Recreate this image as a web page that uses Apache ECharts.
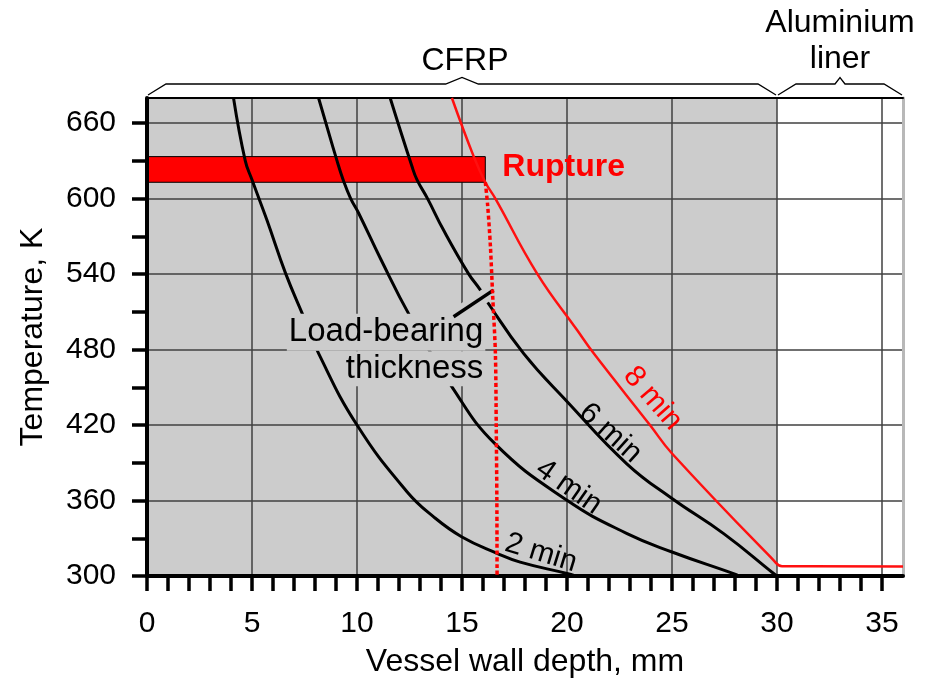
<!DOCTYPE html>
<html><head><meta charset="utf-8">
<script src="https://cdn.jsdelivr.net/npm/echarts@6/dist/echarts.min.js"></script>
<style>html,body{margin:0;padding:0;background:#fff}#c{width:933px;height:681px}</style>
</head><body><div id="c"></div>
<script>
// ---------------- data (depth mm, temperature K) ----------------
const xLabelTicks = [0, 5, 10, 15, 20, 25, 30, 35];
const xMinorTicks = [0,1,2,3,4,5,6,7,8,9,10,11,12,13,14,15,16,17,18,19,20,21,22,23,24,25,26,27,28,29,30,31,32,33,34,35];
const yLabelTicks = [300, 360, 420, 480, 540, 600, 660];
const yMinorTicks = [300, 330, 360, 390, 420, 450, 480, 510, 540, 570, 600, 630, 660];

const curve2min = [[4.12,680],[4.68,630],[5.0,615],[5.71,583],[6.6,540.6],[7.46,506],[8.17,477],[10.0,420],[12.38,367],[13.65,347],[15.0,331],[16.67,318],[17.77,311],[20.0,302],[20.4,300]];
const curve4min = [[8.17,680],[9.05,630],[9.36,614],[9.7,600],[10.08,588.4],[11.11,552.6],[12.54,506],[14.52,450.4],[16.59,404.8],[20.0,360.2],[22.86,333.7],[25.0,319.1],[27.93,301.9],[28.2,300]];
const curve6min = [[11.58,680],[12.62,625.5],[12.86,614.9],[13.36,600],[14.12,575],[15.3,540.6],[15.87,527.4],[16.2,518],[17.93,477],[20.0,438.7],[22.86,389],[25.0,361.6],[27.46,333.7],[29.84,302],[30.0,300]];
const curve8min = [[14.52,680],[15.56,633.4],[16.11,613],[16.59,600],[18.57,540.6],[20.48,495.5],[21.27,477],[23.95,420],[25.0,397.4],[29.84,312.5],[30.24,307.8],[36,307.5]];
const loadBearingLine = [[16.11,613],[16.22,595],[16.35,563],[16.46,523],[16.59,477],[16.63,420],[16.66,360],[16.67,300]];
const ruptureBand = { depthFrom: 0, depthTo: 16.11, tempLow: 613, tempHigh: 633.4 };
const cfrpLayer = [0, 30];
const linerLayer = [30, 36];
const pointerLine = [[14.6,506.1],[16.5,527.3]];
const curveLabels = [
  { text: '2 min', at: [18.76, 318.3], angle: -17, red: false },
  { text: '4 min', at: [20.08, 370.8], angle: -35, red: false },
  { text: '6 min', at: [22.06, 413.5], angle: -42, red: false },
  { text: '8 min', at: [24.08, 441.2], angle: -49, red: true }
];
const ruptureLabel = { text: 'Rupture', at: [16.92, 625.2] };
const loadLabel = [
  { text: 'Load-bearing', at: [16.11, 493.8] },
  { text: 'thickness', at: [16.11, 464.7] }
];

// ---------------- chart ----------------
const FF = "'Liberation Sans', Arial, sans-serif";
const GRID_LINE = { color: '#404040', width: 1.5 };
const chart = echarts.init(document.getElementById('c'), null, { renderer: 'canvas' });

function curve(name, data, color, width, z) {
  return { name, type: 'line', data, z, showSymbol: false, symbol: 'none', smooth: 0.45,
    lineStyle: { color, width }, silent: true, animation: false };
}

const lbl = (o) => Object.assign({ show: true, fontFamily: FF, opacity: 1, textBorderWidth: 0 }, o);
const labelData = [];
curveLabels.forEach(c => labelData.push({ value: c.at, label: lbl({ position: 'inside', formatter: c.text,
  rotate: c.angle, fontSize: 30, color: c.red ? '#ff0000' : '#000000' }) }));
labelData.push({ value: ruptureLabel.at, label: lbl({ position: 'right', distance: 0, formatter: ruptureLabel.text,
  fontSize: 32, fontWeight: 'bold', color: '#ff0000' }) });
labelData.push({ value: loadLabel[0].at, label: lbl({ position: 'left', distance: 0, formatter: loadLabel[0].text,
  fontSize: 33, color: '#000000', backgroundColor: '#cccccc', padding: [0, 2, 4, 2] }) });
labelData.push({ value: loadLabel[1].at, label: lbl({ position: 'left', distance: 0, formatter: loadLabel[1].text,
  fontSize: 33, color: '#000000', backgroundColor: '#cccccc', padding: [0, 2, 2, 6] }) });

const option = {
  backgroundColor: '#fff',
  animation: false,
  grid: { left: 147, right: 30, top: 98, bottom: 105, containLabel: false, outerBoundsMode: 'none' },
  xAxis: [
    { type: 'value', position: 'bottom', min: 0, max: 36, interval: 5, z: 1,
      axisLine: { show: true, onZero: false, lineStyle: { color: '#000', width: 4 } },
      axisTick: { show: false },
      axisLabel: { show: true, margin: 33, fontSize: 30, fontFamily: FF, color: '#000',
        customValues: xLabelTicks },
      splitLine: { show: true, lineStyle: GRID_LINE },
      name: 'Vessel wall depth, mm', nameLocation: 'middle', nameGap: 70,
      nameTextStyle: { fontSize: 32, fontFamily: FF, color: '#000' } },
    { type: 'value', position: 'bottom', min: 0, max: 36, z: 1,
      axisLine: { show: false }, axisLabel: { show: false }, splitLine: { show: false },
      axisTick: { show: true, inside: false, length: 15, customValues: xMinorTicks, lineStyle: { color: '#000', width: 3.5 } } },
    { type: 'value', position: 'top', min: 0, max: 36, z: 1,
      axisLine: { show: true, onZero: false, lineStyle: { color: '#000', width: 2 } },
      axisTick: { show: false }, axisLabel: { show: false }, splitLine: { show: false } }
  ],
  yAxis: [
    { type: 'value', position: 'left', min: 300, max: 680, interval: 60, z: 1,
      axisLine: { show: true, onZero: false, lineStyle: { color: '#000', width: 4 } },
      axisTick: { show: false },
      axisLabel: { show: true, margin: 31, fontSize: 30, fontFamily: FF, color: '#000',
        customValues: yLabelTicks },
      splitLine: { show: true, lineStyle: GRID_LINE },
      name: 'Temperature, K', nameLocation: 'middle', nameGap: 98,
      nameTextStyle: { fontSize: 32, fontFamily: FF, color: '#000' } },
    { type: 'value', position: 'left', min: 300, max: 680, z: 1,
      axisLine: { show: false }, axisLabel: { show: false }, splitLine: { show: false },
      axisTick: { show: true, inside: false, length: 15, customValues: yMinorTicks, lineStyle: { color: '#000', width: 3.5 } } },
    { type: 'value', position: 'right', min: 300, max: 680, z: 1,
      axisLine: { show: true, onZero: false, lineStyle: { color: '#b8b8b8', width: 3 } },
      axisTick: { show: false }, axisLabel: { show: false }, splitLine: { show: false } }
  ],
  series: [
    { name: 'CFRP layer', type: 'line', data: [], z: 0, silent: true,
      markArea: { silent: true, z: 0, itemStyle: { color: '#cccccc' },
        data: [[{ xAxis: cfrpLayer[0] }, { xAxis: cfrpLayer[1] }]] } },
    { name: 'Rupture', type: 'line', data: [], z: 2, silent: true,
      markArea: { silent: true, itemStyle: { color: '#ff0000', borderColor: '#000', borderWidth: 1 },
        data: [[{ coord: [ruptureBand.depthFrom, ruptureBand.tempLow] }, { coord: [ruptureBand.depthTo, ruptureBand.tempHigh] }]] } },
    curve('2 min', curve2min, '#000', 3, 3),
    curve('4 min', curve4min, '#000', 3, 3),
    curve('6 min', curve6min, '#000', 3, 3),
    curve('8 min', curve8min, '#ff1010', 2.5, 3),
    { name: 'labels', type: 'scatter', z: 4, symbolSize: 0, silent: true, itemStyle: { opacity: 1 }, data: labelData },
    { name: 'pointer halo', type: 'line', z: 4, data: pointerLine, showSymbol: false, symbol: 'none', silent: true,
      lineStyle: { color: '#cccccc', width: 14, cap: 'butt' } },
    { name: 'pointer', type: 'line', z: 5, data: pointerLine, showSymbol: false, symbol: 'none', silent: true,
      lineStyle: { color: '#000', width: 3.5, cap: 'butt' } },
    { name: 'Load-bearing thickness', type: 'line', z: 6, data: loadBearingLine, showSymbol: false, symbol: 'none',
      smooth: 0.3, silent: true,
      lineStyle: { color: '#ff0000', width: 3.5, type: [4, 2.7], cap: 'butt' } }
  ]
};
chart.setOption(option);

// ---- layer brackets and their captions ----
const topY = chart.convertToPixel({ yAxisIndex: 0 }, 680);
function bracketPts(range) {
  const x0 = chart.convertToPixel({ xAxisIndex: 0 }, range[0]);
  const x1 = chart.convertToPixel({ xAxisIndex: 0 }, range[1]);
  const xm = (x0 + x1) / 2;
  const ph = Math.max(5, (x1 - x0) * 0.026);
  return { xm, pts: [[x0 + 1, topY - 3], [x0 + 19, topY - 14], [xm - ph, topY - 14], [xm, topY - 20.5],
    [xm + ph, topY - 14], [x1 - 19, topY - 14], [x1 - 1, topY - 3]] };
}
const bC = bracketPts(cfrpLayer), bA = bracketPts(linerLayer);
const txt = (t, x, y) => ({ type: 'text', x, y, z: 10, silent: true,
  style: { text: t, fill: '#000', font: '32px ' + FF, align: 'center', verticalAlign: 'middle' } });
chart.setOption({ graphic: [
  { type: 'polyline', z: 10, silent: true, shape: { points: bC.pts }, style: { stroke: '#000', lineWidth: 1.3, fill: null } },
  { type: 'polyline', z: 10, silent: true, shape: { points: bA.pts }, style: { stroke: '#000', lineWidth: 1.3, fill: null } },
  txt('CFRP', bC.xm + 3, 61),
  txt('Aluminium', bA.xm, 23),
  txt('liner', bA.xm, 59.5)
] });
</script></body></html>
